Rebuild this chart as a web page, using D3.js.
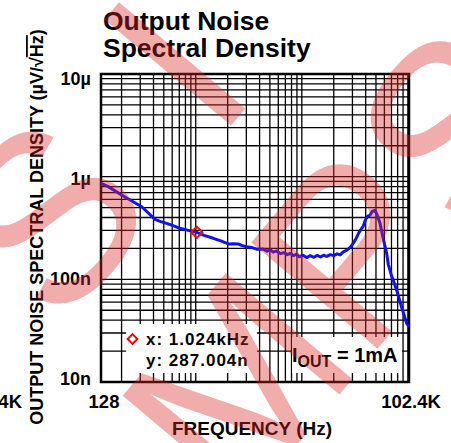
<!DOCTYPE html>
<html><head><meta charset="utf-8">
<script src="https://cdn.jsdelivr.net/npm/d3@7"></script>
<style>
html,body{margin:0;padding:0;background:#fff;}
svg{display:block;font-family:"Liberation Sans",Arial,sans-serif;}
</style></head>
<body><svg id="c" width="451" height="443"></svg>
<script>
// ---- data ----
const freqHz = [128,150,200,250,310,360,413,470,532,620,711,850,1024,1200,1464,1700,2029,2300,2520,2700,3021,3400,3800,
  4340,4700,5000,5384,5800,6300,6800,7300,7800,8308,8900,9500,10200,11110,12000,13000,14000,15000,16000,17150,18500,20000,
  21500,23000,24600,26000,27500,29000,30570,32500,34500,36000,37970,40000,42000,43900,46000,48900,51000,54600,58000,63100,
  65300,70000,78300,88000,97300,102400];
const noiseN = [860,800,662,580,509,440,384,365,351,332,314,300,287,268,251,238,221,222,221,214,208,204,196,
  197,188,195,184,189,178,182,174,179,170,175,166,172,163,170,164,171,165,172,167,174,170,
  177,173,185,190,198,208,225,250,285,305,330,385,415,420,458,468,430,351,260,179,
  140,109,78.7,52,37.3,34.6];
const xTickLabels = ["128","102.4K"];
const xTickValues = [128,102400];
const yTickLabels = ["10n","100n","1µ","10µ"];
const yTickValues = [1e-8,1e-7,1e-6,1e-5];
const cursorPoint = {f:1024, v:287.004e-9};
const cursorLines = ["x: 1.024kHz","y: 287.004n"];
const titleLines = ["Output Noise","Spectral Density"];

// ---- layout ----
const svg = d3.select("#c");
const L=101,R=409,T=74,B=382;
const x = d3.scaleLog().domain([128,102400]).range([L,R]);
const y = d3.scaleLog().domain([1e-8,1e-5]).range([B,T]);
const yLab = d3.scaleLog().domain([1e-8,1e-5]).range([385,85]);

// title
svg.selectAll("text.title").data(titleLines).join("text")
  .attr("x",103).attr("y",(d,i)=>30+i*27)
  .attr("font-size",26.5).attr("font-weight","bold").attr("fill","#000").text(d=>d);

// grid
const g = svg.append("g");
const vTicks=[]; [100,1000,10000,100000].forEach(d=>{for(let k=1;k<=9;k++){const v=d*k; if(v>128&&v<102400) vTicks.push(v);}});
const hTicks=[]; [1e-8,1e-7,1e-6].forEach(d=>{for(let k=2;k<=9;k++) hTicks.push(d*k);}); hTicks.push(1e-7,1e-6);
g.selectAll("line.v").data(vTicks).join("line").attr("x1",d=>x(d)).attr("x2",d=>x(d)).attr("y1",T).attr("y2",B)
  .attr("stroke","#000").attr("stroke-width",1.3);
g.selectAll("line.h").data(hTicks).join("line").attr("y1",d=>y(d)).attr("y2",d=>y(d)).attr("x1",L).attr("x2",R)
  .attr("stroke","#000").attr("stroke-width",1.3);

// annotation boxes (white) leaving tick stubs at bottom
svg.append("rect").attr("x",126).attr("y",324).attr("width",131).attr("height",49).attr("fill","#fff");
svg.append("rect").attr("x",292).attr("y",337).attr("width",110).attr("height",36).attr("fill","#fff");

// frame
svg.append("rect").attr("x",L).attr("y",T).attr("width",R-L).attr("height",B-T)
  .attr("fill","none").attr("stroke","#000").attr("stroke-width",2.5);

// curve
const line = d3.line().x(d=>x(d[0])).y(d=>y(d[1]*1e-9));
svg.append("path").datum(freqHz.map((f,i)=>[f,noiseN[i]])).attr("d",line)
  .attr("fill","none").attr("stroke","#1010f8").attr("stroke-width",3).attr("stroke-linejoin","round");

// cursor marker
svg.append("path").attr("d",d3.symbol().type(d3.symbolDiamond2).size(80))
  .attr("transform",`translate(${x(cursorPoint.f)},${y(cursorPoint.v)})`)
  .attr("fill","none").attr("stroke","#f00").attr("stroke-width",2);
svg.append("path").attr("d",d3.symbol().type(d3.symbolDiamond2).size(60)).attr("transform","translate(132.5,339)")
  .attr("fill","none").attr("stroke","#f00").attr("stroke-width",2);
svg.selectAll("text.cur").data(cursorLines).join("text")
  .attr("x",146).attr("y",(d,i)=>345+i*21).attr("font-size",17).attr("letter-spacing",1)
  .attr("font-weight","bold").attr("fill","#000").text(d=>d);

// IOUT label
const io = svg.append("text").attr("x",292).attr("y",362).attr("font-size",20).attr("font-weight","bold").attr("fill","#000");
io.append("tspan").text("I");
io.append("tspan").attr("font-size",16).attr("dy",5).text("OUT");
io.append("tspan").attr("dy",-5).text(" = 1mA");

// y tick labels
svg.selectAll("text.yl").data(yTickValues).join("text")
  .attr("x",91).attr("y",d=>yLab(d)).attr("text-anchor","end").attr("font-size",18).attr("font-weight","bold")
  .text((d,i)=>yTickLabels[i]);
// x tick labels
svg.selectAll("text.xl").data(xTickValues).join("text")
  .attr("x",d=>x(d)+(d===128?3:2)).attr("y",408).attr("text-anchor","middle").attr("font-size",18.5).attr("font-weight","bold")
  .text((d,i)=>xTickLabels[i]);
// clipped neighbour label
svg.append("text").attr("x",22).attr("y",408).attr("text-anchor","end").attr("font-size",18.5).attr("font-weight","bold").text("102.4K");

// axis titles
svg.append("text").attr("x",252).attr("y",435).attr("text-anchor","middle").attr("font-size",19).attr("font-weight","bold")
  .text("FREQUENCY (Hz)");
const yt = svg.append("text").attr("transform","translate(43,227) rotate(-90)").attr("text-anchor","middle")
  .attr("font-size",18).attr("font-weight","bold");
yt.append("tspan").text("OUTPUT NOISE SPECTRAL DENSITY (µV/√");
yt.append("tspan").style("text-decoration","overline").text("Hz");
yt.append("tspan").text(")");

// watermark
const wm = svg.append("g").attr("fill","rgb(220,40,40)").attr("opacity",0.38).attr("font-weight","normal")
  .attr("font-family","Liberation Sans, Arial").attr("font-size",240);
wm.append("text").attr("transform","translate(59.5,331.6) rotate(-50)").text("S");
wm.append("text").attr("transform","translate(216.7,142.6) rotate(-50)").text("I");
wm.append("text").attr("transform","translate(236.6,516.9) rotate(-50)").text("MPS");
</script></body></html>
